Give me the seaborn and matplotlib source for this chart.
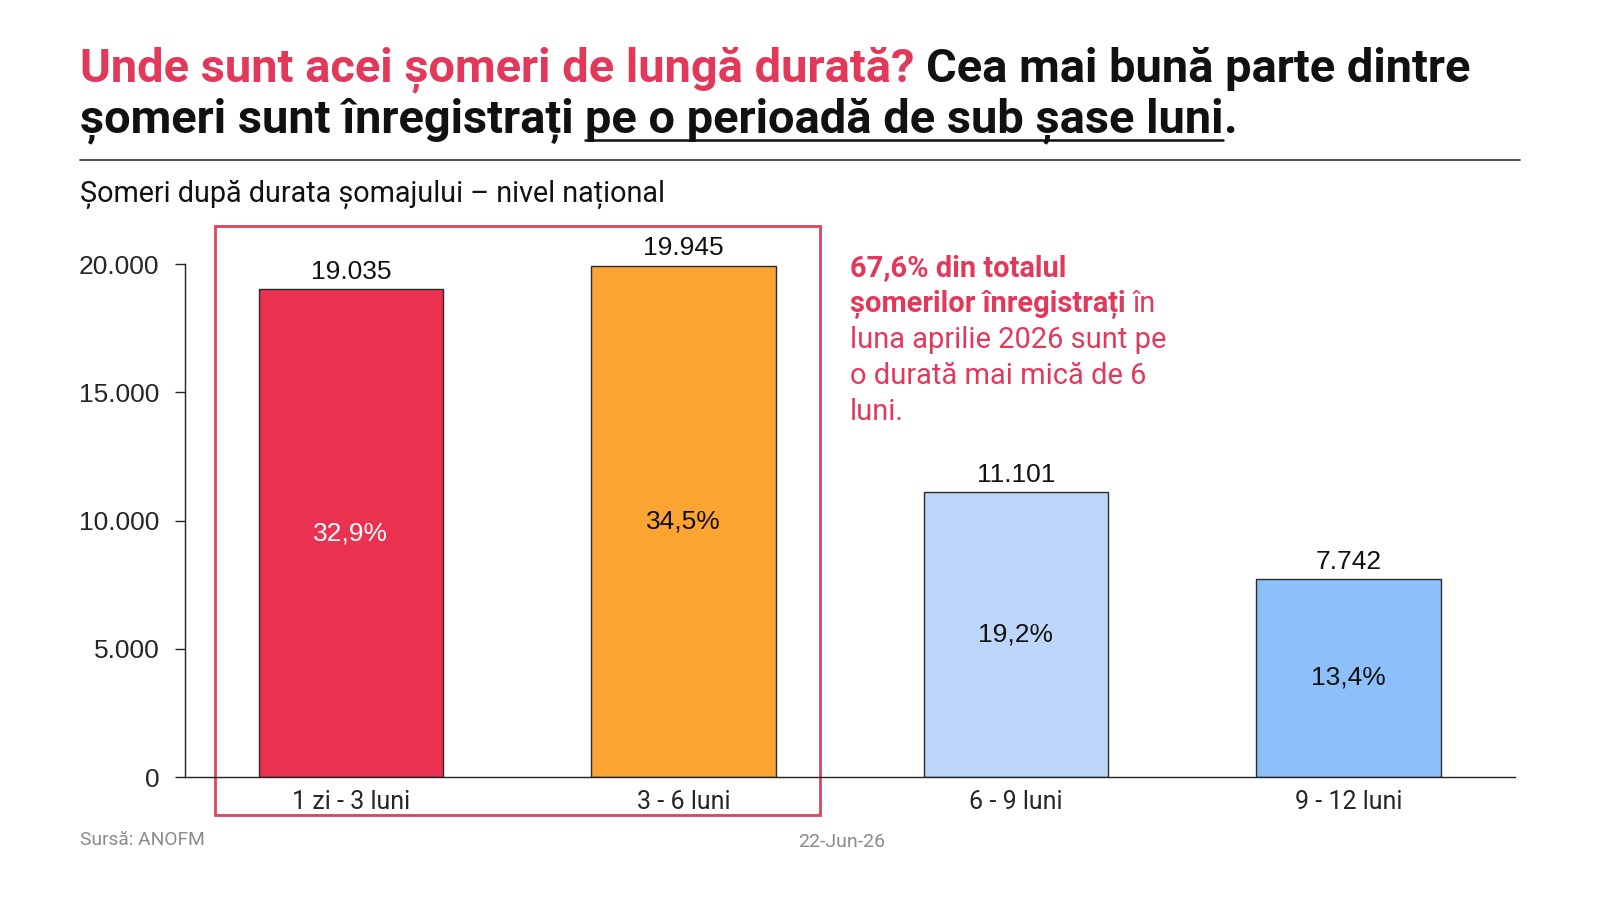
import matplotlib.pyplot as plt
import seaborn as sns
import numpy as np
from matplotlib.patches import Rectangle
from matplotlib.lines import Line2D

plt.switch_backend('Agg')

# Data
categories = ['1 zi - 3 luni', '3 - 6 luni', '6 - 9 luni', '9 - 12 luni']
values = [19035, 19945, 11101, 7742]
shares = [32.9, 34.5, 19.2, 13.4]
bar_colors = ['#EB3150', '#FBA431', '#BDD7FA', '#8DBFFA']
share_colors = ['white', '#111111', '#111111', '#111111']
y_ticks = [0, 5000, 10000, 15000, 20000]

RED = '#E2395A'
BOX_RED = '#D9445F'

sns.set_theme(style='white')
plt.rcParams['font.family'] = ['Liberation Sans', 'DejaVu Sans']

# Coordinates taken from a ~1569 px wide reading of the reference
S = 1.02
def fx(x):
    return x * S / 1600
def fy(y):
    return 1 - y * S / 900

fig = plt.figure(figsize=(16, 9), dpi=100)
renderer = fig.canvas.get_renderer()

ax = fig.add_axes([fx(181), fy(762), fx(1485) - fx(181), fy(259) - fy(762)])
sns.barplot(x=categories, y=values, hue=categories, palette=bar_colors, saturation=1,
            width=0.555, edgecolor='#2b2b2b', linewidth=1, legend=False, ax=ax)
ax.set_xlim(-0.5, 3.5)
ax.set_ylim(0, 20000)
ax.set_yticks(y_ticks)
ax.set_yticklabels([f'{t:,}'.replace(',', '.') for t in y_ticks], fontsize=19)
ax.tick_params(axis='y', length=7, width=1, color='#222222', pad=11, left=True)
ax.tick_params(axis='x', length=0, pad=9)
for lbl in ax.get_xticklabels():
    lbl.set_fontfamily(['Roboto', 'DejaVu Sans'])
    lbl.set_fontsize(18)
ax.set_xlabel('')
ax.set_ylabel('')
for side in ['top', 'right']:
    ax.spines[side].set_visible(False)
for side in ['left', 'bottom']:
    ax.spines[side].set_color('#222222')
    ax.spines[side].set_linewidth(1)

# Value labels and shares
for i, v in enumerate(values):
    ax.text(i, v + 200, f'{v:,}'.replace(',', '.'), ha='center', va='bottom',
            fontsize=19, color='#111111', clip_on=False)
    ax.text(i, v / 2, f'{shares[i]:.1f}%'.replace('.', ','), ha='center', va='center',
            fontsize=19, color=share_colors[i])

# Highlight box around the first two bars
ax.add_patch(Rectangle((-0.41, -1470), 1.82, 21470 + 1470, fill=False,
                       edgecolor=BOX_RED, linewidth=2, clip_on=False))


def text_width(t):
    return t.get_window_extent(renderer=renderer).width


def draw_runs(x_px, y_px, runs, **common):
    """Draw text pieces one after another on a baseline; returns list of (x0, x1) in px."""
    x = x_px * S
    spans = []
    for txt, props in runs:
        kw = dict(common)
        kw.update(props)
        t = fig.text(x / 1600, fy(y_px), txt, va='baseline', ha='left', **kw)
        w = text_width(t)
        spans.append((x, x + w))
        x += w
        # add a space after each run except when marked otherwise
        if kw.get('gid') != 'nospace':
            sp = fig.text(0, 0, 'x x', **{k: v for k, v in kw.items() if k != 'gid'})
            sp2 = fig.text(0, 0, 'xx', **{k: v for k, v in kw.items() if k != 'gid'})
            x += text_width(sp) - text_width(sp2)
            sp.remove()
            sp2.remove()
    return spans


title_font = ['Roboto', 'DejaVu Sans']
tsize = 33.8
bold = dict(fontweight='bold')

draw_runs(78, 80, [('Unde sunt acei șomeri de lungă durată?', dict(color=RED)),
                   ('Cea mai bună parte dintre', dict(color='#111111', gid='nospace'))],
          fontsize=tsize, family=title_font, **bold)
spans = draw_runs(78, 130, [('șomeri sunt înregistrați', dict(color='#111111')),
                            ('pe o perioadă de sub șase luni', dict(color='#111111', gid='nospace')),
                            ('.', dict(color='#111111', gid='nospace'))],
                  fontsize=tsize, family=title_font, **bold)
x0, x1 = spans[1]
fig.add_artist(Line2D([x0 / 1600, x1 / 1600], [fy(137), fy(137)], color='#111111', lw=1.8))

# Rule under the title
fig.add_artist(Line2D([fx(78), fx(1490)], [fy(157), fy(157)], color='#333333', lw=1.2))

# Subtitle
fig.text(fx(78), fy(198), 'Șomeri după durata șomajului – nivel național', fontsize=20.7,
         family=title_font, color='#111111', va='baseline')

# Side note
note_size = 20.9
draw_runs(833, 271, [('67,6% din totalul', dict(fontweight='bold', gid='nospace'))],
          fontsize=note_size, family=title_font, color=RED)
draw_runs(833, 306, [('șomerilor înregistrați', dict(fontweight='bold')),
                     ('în', dict(gid='nospace'))],
          fontsize=note_size, family=title_font, color=RED)
for k, line in enumerate(['luna aprilie 2026 sunt pe', 'o durată mai mică de 6', 'luni.']):
    fig.text(fx(833), fy(341 + 35.3 * k), line, fontsize=note_size, family=title_font,
             color=RED, va='baseline')

# Footer
fig.text(fx(78), fy(828), 'Sursă: ANOFM', fontsize=13.8, family=['Roboto', 'DejaVu Sans'],
         color='#8a8a8a', va='baseline')
fig.text(fx(825), fy(830), '22-Jun-26', fontsize=14, family=['Roboto', 'DejaVu Sans'],
         color='#8a8a8a', va='baseline', ha='center')

fig.savefig('out.png', dpi=100, facecolor='white')
plt.close(fig)
